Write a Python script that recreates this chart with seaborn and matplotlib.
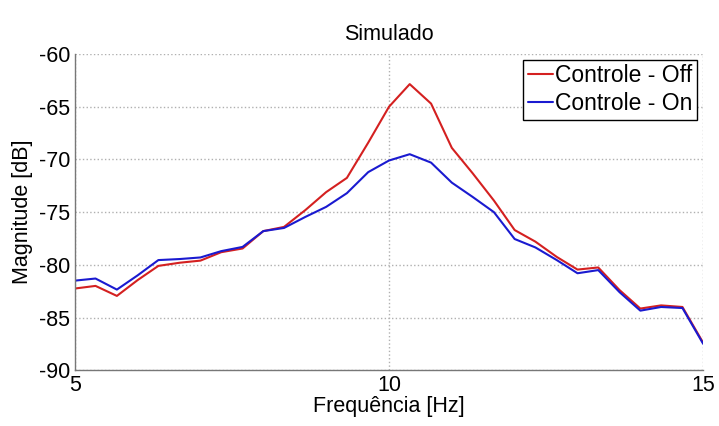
import numpy as np
import pandas as pd
import seaborn as sns
import matplotlib.pyplot as plt

# frequency grid (Hz), step of 1/3 Hz
freq = [5.0, 5.33, 5.67, 6.0, 6.33, 6.67, 7.0, 7.33, 7.67, 8.0, 8.33,
        8.67, 9.0, 9.33, 9.67, 10.0, 10.33, 10.67, 11.0, 11.33, 11.67,
        12.0, 12.33, 12.67, 13.0, 13.33, 13.67, 14.0, 14.33, 14.67, 15.0]

mag_off = [-82.25, -82.0, -82.95, -81.45, -80.1, -79.8, -79.6, -78.8, -78.45, -76.8, -76.4,
           -74.8, -73.1, -71.75, -68.4, -65.0, -62.85, -64.7, -68.9, -71.3, -73.9,
           -76.7, -77.8, -79.25, -80.45, -80.25, -82.4, -84.15, -83.85, -84.0, -87.4]

mag_on = [-81.5, -81.3, -82.35, -81.0, -79.55, -79.45, -79.3, -78.7, -78.3, -76.8, -76.5,
          -75.45, -74.5, -73.2, -71.2, -70.1, -69.5, -70.3, -72.2, -73.55, -75.0,
          -77.55, -78.35, -79.55, -80.8, -80.5, -82.6, -84.35, -84.0, -84.1, -87.5]

labels = ['Controle - Off', 'Controle - On']

df = pd.DataFrame({
    'freq': freq * 2,
    'mag': mag_off + mag_on,
    'serie': [labels[0]] * len(freq) + [labels[1]] * len(freq),
})

sns.set_style('white')
plt.rcParams['font.family'] = ['Liberation Sans', 'DejaVu Sans']
plt.rcParams['axes.unicode_minus'] = False
plt.rcParams['text.color'] = 'black'
plt.rcParams['axes.labelcolor'] = 'black'
plt.rcParams['xtick.color'] = 'black'
plt.rcParams['ytick.color'] = 'black'

fig = plt.figure(figsize=(7.19, 4.26), dpi=100)
ax = fig.add_axes([0.104, 0.131, 0.874, 0.742])

sns.lineplot(data=df, x='freq', y='mag', hue='serie',
             palette=['#d42020', '#1a1ad0'], linewidth=1.5, ax=ax)

ax.set_xlim(5, 15)
ax.set_ylim(-90, -60)
ax.set_xticks([5, 10, 15])
ax.set_yticks(np.arange(-90, -59, 5))
ax.grid(True, linestyle=':', color='#b0b0b0', linewidth=1.0)
ax.tick_params(direction='in', length=4, labelsize=15.5, color='#555555')

for s in ['top', 'right']:
    ax.spines[s].set_visible(False)
for s in ['left', 'bottom']:
    ax.spines[s].set_color('#777777')
    ax.spines[s].set_linewidth(1.0)

ax.set_title('Simulado', fontsize=15.5, pad=10)
ax.set_xlabel('Frequência [Hz]', fontsize=15.5, labelpad=0)
ax.set_ylabel('Magnitude [dB]', fontsize=15.5, labelpad=4)

leg = ax.legend(loc='upper right', fontsize=16.5, handlelength=1.1,
                handletextpad=0.1, borderpad=0.2, labelspacing=0.2,
                fancybox=False, framealpha=1, borderaxespad=0.25)
leg.get_frame().set_edgecolor('black')
leg.get_frame().set_linewidth(1.0)

fig.savefig('out.png', dpi=100)
